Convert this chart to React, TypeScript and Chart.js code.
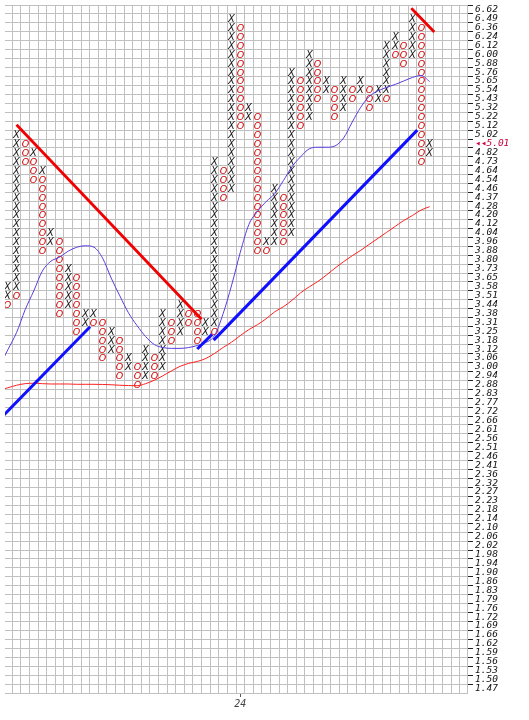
import { useEffect, useRef } from "react";
import { Chart, registerables } from "chart.js";

Chart.register(...registerables);

// Box prices on a 2% log grid, highest box first
const boxPrices: string[] = [
  "6.62", "6.49", "6.36", "6.24", "6.12", "6.00", "5.88", "5.76", "5.65", "5.54",
  "5.43", "5.32", "5.22", "5.12", "5.02", "4.92", "4.82", "4.73", "4.64", "4.54",
  "4.46", "4.37", "4.28", "4.20", "4.12", "4.04", "3.96", "3.88", "3.80", "3.73",
  "3.65", "3.58", "3.51", "3.44", "3.38", "3.31", "3.25", "3.18", "3.12", "3.06",
  "3.00", "2.94", "2.88", "2.83", "2.77", "2.72", "2.66", "2.61", "2.56", "2.51",
  "2.46", "2.41", "2.36", "2.32", "2.27", "2.23", "2.18", "2.14", "2.10", "2.06",
  "2.02", "1.98", "1.94", "1.90", "1.86", "1.83", "1.79", "1.76", "1.72", "1.69",
  "1.66", "1.62", "1.59", "1.56", "1.53", "1.50", "1.47",
];
const boxRatio = 1.02;

// Last traded price, written on the axis in place of its box label
const lastPrice = "5.01";
const lastPriceBox = "4.92";

// Point & figure columns, left to right: top box of the column, marks read downwards
const columns: [string, string][] = [
  ["3.58", "XXO"],
  ["5.02", "XXXXXXXXXXXXXXXXXXO"],
  ["4.92", "OOO"],
  ["4.82", "XOOO"],
  ["4.64", "XOOOOOOOOO"],
  ["4.04", "XX"],
  ["3.96", "OOOOOOOOO"],
  ["3.73", "XXXXX"],
  ["3.65", "OOOOOOO"],
  ["3.38", "XX"],
  ["3.38", "XO"],
  ["3.31", "OOOOO"],
  ["3.25", "XXX"],
  ["3.18", "OOOOO"],
  ["3.06", "XX"],
  ["3.00", "OOO"],
  ["3.12", "XXXX"],
  ["3.06", "OOO"],
  ["3.38", "XXXXXXX"],
  ["3.31", "OOO"],
  ["3.44", "XXXX"],
  ["3.38", "OO"],
  ["3.38", "OOOO"],
  ["3.31", "XX"],
  ["4.73", "XXXXXXXXXXXXXXXXXXXO"],
  ["4.64", "OOOO"],
  ["6.49", "XXXXXXXXXXXXXXXXXXXX"],
  ["6.36", "OOOOOOOOOOOO"],
  ["5.32", "XX"],
  ["5.22", "OOOOOOOOOOOOOOOO"],
  ["3.96", "XO"],
  ["4.46", "XXXXXXX"],
  ["4.37", "OOOOOO"],
  ["5.76", "XXXXXXXXXXXXXXXXXXX"],
  ["5.65", "OOOOOO"],
  ["6.00", "XXXXXXXX"],
  ["5.88", "OOOOO"],
  ["5.65", "XX"],
  ["5.54", "OOOO"],
  ["5.65", "XXXX"],
  ["5.54", "OO"],
  ["5.65", "XX"],
  ["5.54", "OOO"],
  ["5.54", "XX"],
  ["6.12", "XXXXXXO"],
  ["6.24", "XXO"],
  ["6.12", "OOO"],
  ["6.49", "XXXXX"],
  ["6.36", "OOOOOOOOOOOOOOOO"],
  ["4.92", "XX"],
];

// Column where the year 2024 starts
const yearStartColumn = 27;
const yearLabel = "24";

// Column moving averages (price per column), first value belongs to column -1
const averageFirstColumn = -1;
const fastAverage: number[] = [
  3.0, 3.116, 3.235, 3.403, 3.548, 3.708, 3.79, 3.824, 3.875, 3.909,
  3.922, 3.909, 3.816, 3.651, 3.51, 3.381, 3.286, 3.207, 3.151, 3.13,
  3.124, 3.124, 3.13, 3.144, 3.165, 3.214, 3.373, 3.596, 3.866, 4.112,
  4.232, 4.325, 4.402, 4.53, 4.672, 4.776, 4.861, 4.879, 4.879, 4.893,
  4.98, 5.158, 5.332, 5.462, 5.528, 5.571, 5.608, 5.651, 5.695, 5.72,
  5.644,
];
const slowAverage: number[] = [
  2.848, 2.863, 2.879, 2.889, 2.892, 2.889, 2.887, 2.887, 2.887, 2.885,
  2.885, 2.885, 2.884, 2.882, 2.879, 2.877, 2.876, 2.889, 2.911, 2.94,
  2.972, 3.002, 3.022, 3.035, 3.055, 3.089, 3.13, 3.168, 3.214, 3.257,
  3.293, 3.336, 3.388, 3.426, 3.475, 3.533, 3.58, 3.623, 3.675, 3.732,
  3.786, 3.836, 3.883, 3.935, 3.987, 4.04, 4.094, 4.148, 4.194, 4.245,
  4.277,
];

// Trend lines as [column, price] end points
const resistanceLines: [number, number][][] = [
  [[1.0, 5.129], [22.5, 3.332]],
  [[46.87, 6.638], [49.54, 6.298]],
];
const supportLines: [number, number][][] = [
  [[-1, 2.667], [9.55, 3.278]],
  [[22.0, 3.12], [23.72, 3.223]],
  [[23.9, 3.182], [47.56, 5.068]],
];

// Layout
const CANVAS_W = 529;
const CANVAS_H = 720;
const PLOT_RIGHT = 467;
const PLOT_BOTTOM = 693;
const COLUMN_W = 8.7;
const FIRST_COLUMN_X = 2.95;
const X_MIN = -FIRST_COLUMN_X / COLUMN_W;
const X_MAX = X_MIN + PLOT_RIGHT / COLUMN_W;

const GRID = "#c0c0c0";
const X_COLOR = "#1a1a1a";
const O_COLOR = "#d40000";
const LAST_COLOR = "#c8003c";

const topBox = boxPrices.length - 1;
const basePrice = Number(boxPrices[topBox]);
const boxOfLabel = (p: string) => topBox - boxPrices.indexOf(p);
const boxOfPrice = (p: number) => Math.log(p / basePrice) / Math.log(boxRatio);

const labelFont = { family: '"DejaVu Sans Mono", monospace', size: 9.5, style: "italic" as const };

function makeGlyph(ch: string, color: string, size: number): HTMLCanvasElement {
  const c = document.createElement("canvas");
  c.width = 11;
  c.height = 11;
  const g = c.getContext("2d")!;
  g.font = `italic ${size}px "DejaVu Sans"`;
  g.fillStyle = color;
  g.textAlign = "center";
  g.textBaseline = "alphabetic";
  g.fillText(ch, 5.5, 5.5 + size * 0.36);
  return c;
}

const crispMarks = {
  id: "crispMarks",
  beforeDatasetsDraw(chart: Chart) {
    chart.ctx.imageSmoothingEnabled = false;
  },
  afterDatasetsDraw(chart: Chart) {
    chart.ctx.imageSmoothingEnabled = true;
  },
};

export default function App() {
  const canvasRef = useRef<HTMLCanvasElement>(null);

  useEffect(() => {
    const canvas = canvasRef.current;
    if (!canvas) return;

    const xPoints: { x: number; y: number }[] = [];
    const oPoints: { x: number; y: number }[] = [];
    columns.forEach(([top, marks], col) => {
      const start = boxOfLabel(top);
      marks.split("").forEach((m, k) => {
        (m === "X" ? xPoints : oPoints).push({ x: col, y: start - k });
      });
    });

    const avgPoints = (values: number[]) =>
      values.map((p, k) => ({ x: averageFirstColumn + k, y: boxOfPrice(p) }));
    const segPoints = (seg: [number, number][]) => seg.map(([c, p]) => ({ x: c, y: boxOfPrice(p) }));

    const lineSet = (data: { x: number; y: number }[], color: string, width: number, smooth: boolean) => ({
      data,
      showLine: true,
      borderColor: color,
      backgroundColor: color,
      borderWidth: width,
      pointRadius: 0,
      cubicInterpolationMode: smooth ? ("monotone" as const) : ("default" as const),
      tension: smooth ? 0.4 : 0,
      fill: false,
    });

    const xGlyph = makeGlyph("X", X_COLOR, 10);
    const oGlyph = makeGlyph("O", O_COLOR, 9.5);

    const labelFor = (v: number) => {
      const i = topBox - Math.round(v - 0.5);
      if (i < 0 || i > topBox) return "";
      const p = boxPrices[i];
      return p === lastPriceBox ? "\u25C2\u25C2" + lastPrice : p;
    };

    const chart = new Chart(canvas, {
      type: "scatter",
      data: {
        datasets: [
          ...resistanceLines.map((s) => lineSet(segPoints(s), "#f00000", 2.8, false)),
          ...supportLines.map((s) => lineSet(segPoints(s), "#1010ff", 3, false)),
          lineSet(avgPoints(fastAverage), "#5a3ce0", 1, true),
          lineSet(avgPoints(slowAverage), "#ff2020", 1, true),
          { data: xPoints, pointStyle: xGlyph, pointRadius: 4, showLine: false },
          { data: oPoints, pointStyle: oGlyph, pointRadius: 4, showLine: false },
        ] as any,
      },
      options: {
        responsive: false,
        animation: false,
        events: [],
        layout: { padding: 0 },
        plugins: { legend: { display: false }, tooltip: { enabled: false } },
        scales: {
          x: {
            type: "linear",
            position: "bottom",
            min: X_MIN,
            max: X_MAX,
            bounds: "data",
            afterBuildTicks: (s: any) => {
              const t: { value: number }[] = [];
              for (let k = -1; k <= 60; k++) {
                const v = k + 0.5;
                if (v >= X_MIN && v <= X_MAX) t.push({ value: v });
              }
              t.push({ value: yearStartColumn });
              t.sort((a, b) => a.value - b.value);
              s.ticks = t;
            },
            afterFit: (s: any) => {
              s.height = CANVAS_H - PLOT_BOTTOM;
              s.paddingLeft = 0;
              s.paddingRight = 0;
            },
            grid: {
              color: (c: any) => (c.tick && c.tick.value === yearStartColumn ? "rgba(0,0,0,0)" : GRID),
              tickColor: (c: any) => (c.tick && c.tick.value === yearStartColumn ? "#555" : "rgba(0,0,0,0)"),
              tickLength: 4,
              lineWidth: 1,
            },
            border: { display: false },
            ticks: {
              autoSkip: false,
              maxRotation: 0,
              minRotation: 0,
              padding: 1,
              font: { ...labelFont, size: 10 },
              color: "#444",
              callback: (v: any) => (Number(v) === yearStartColumn ? yearLabel : ""),
            },
          },
          y: {
            type: "linear",
            position: "right",
            min: -0.5,
            max: topBox + 0.5,
            bounds: "data",
            afterBuildTicks: (s: any) => {
              s.ticks = Array.from({ length: boxPrices.length + 1 }, (_, k) => ({ value: k - 0.5 }));
            },
            afterFit: (s: any) => {
              s.width = CANVAS_W - PLOT_RIGHT;
              s.paddingTop = 0;
              s.paddingBottom = 0;
            },
            grid: {
              color: GRID,
              lineWidth: 1,
              tickLength: 6,
              tickColor: (c: any) => (c.tick && c.tick.value < 0 ? "rgba(0,0,0,0)" : "#222"),
            },
            border: { display: true, color: GRID },
            ticks: {
              autoSkip: false,
              padding: 2,
              labelOffset: 4.5,
              font: labelFont,
              color: (c: any) =>
                c.tick && labelFor(c.tick.value).startsWith("\u25C2") ? LAST_COLOR : "#111",
              callback: (v: any) => labelFor(Number(v)),
            },
          },
        },
      },
      plugins: [crispMarks],
    });

    return () => chart.destroy();
  }, []);

  return (
    <div style={{ position: "absolute", left: 0, top: 0, width: CANVAS_W, height: CANVAS_H, background: "#fff" }}>
      <canvas ref={canvasRef} width={CANVAS_W} height={CANVAS_H} style={{ display: "block", width: CANVAS_W, height: CANVAS_H }} />
    </div>
  );
}
